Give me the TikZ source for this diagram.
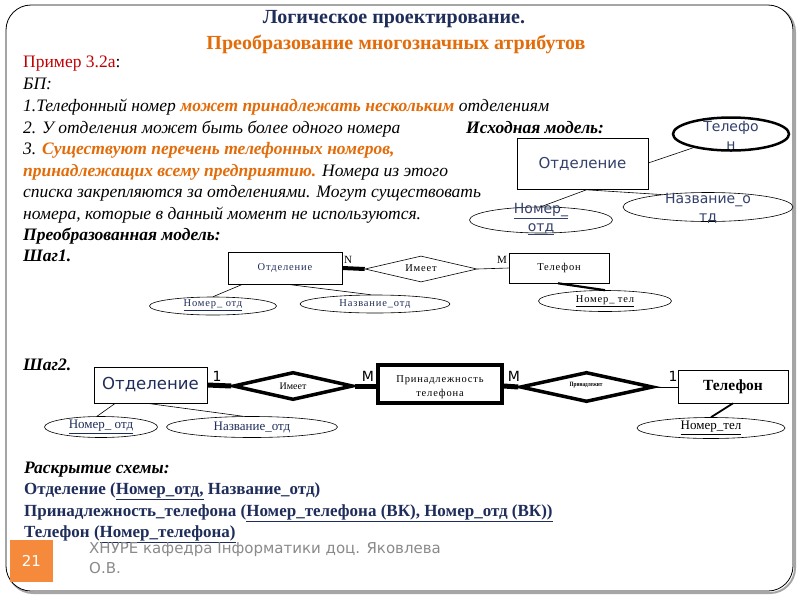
\documentclass[tikz,border=0pt]{standalone}
\usepackage{fontspec}
\setmainfont{Liberation Serif}
\newfontfamily\ttlfont[FakeStretch=0.8]{Liberation Serif}
\newfontfamily\sansf{DejaVu Sans}
\newfontfamily\lspf[LetterSpace=8]{Liberation Serif}
\usetikzlibrary{shapes.geometric,calc}
\definecolor{navy}{HTML}{1F2D5A}
\definecolor{orng}{HTML}{E36C0A}
\definecolor{redd}{HTML}{C00000}
\definecolor{boxc}{HTML}{F58A3C}
\definecolor{gry}{HTML}{8A8A8A}
\definecolor{lbl}{HTML}{33406A}
\begin{document}
\begin{tikzpicture}[x=1pt,y=-1pt,
  txt/.style={anchor=base west,inner sep=0pt,font=\fontsize{17.5}{20}\selectfont\itshape},
  ent/.style={draw,line width=0.6pt,inner sep=0pt},
  ell/.style={draw,ellipse,line width=0.6pt,inner sep=0pt},
  rel/.style={draw,diamond,line width=0.6pt,inner sep=0pt},
  thin/.style={line width=0.6pt},
  cen/.style={inner sep=0pt,align=center}]
\useasboundingbox (0,0) rectangle (800,600);
% frame
\draw[rounded corners=25pt,line width=2pt,gray!70] (8,7) rectangle (795,593);
\draw[rounded corners=25pt,line width=0.8pt,fill=white] (6,5) rectangle (793,591);
% titles
\node[inner sep=0pt,text=navy,font=\fontsize{20}{22}\selectfont\bfseries] (title1) at (394,19) {Логическое проектирование.};
\node[inner sep=0pt,text=orng,font=\fontsize{20}{22}\selectfont\bfseries] (title2) at (396,44) {Преобразование многозначных атрибутов};
% body text
\node[txt,font=\fontsize{17.5}{20}\selectfont] (l1) at (23,67) {{\color{redd}Пример 3.2а}:};
\node[txt] (l2) at (23,89) {БП:};
\node[txt] (l3) at (23,111) {1.Телефонный номер {\color{orng}\bfseries может принадлежать нескольким} отделениям};
\node[txt] (l4) at (23,133) {2. У отделения может быть более одного номера};
\node[txt,font=\fontsize{17.5}{20}\selectfont\itshape\bfseries] (l4b) at (466,133) {Исходная модель:};
\node[txt] (l5) at (23,154) {3. {\color{orng}\bfseries Существуют перечень телефонных номеров,}};
\node[txt] (l6) at (23,176) {{\color{orng}\bfseries принадлежащих всему предприятию.} Номера из этого};
\node[txt] (l7) at (23,197) {списка закрепляются за отделениями. Могут существовать};
\node[txt] (l8) at (23,219) {номера, которые в данный момент не используются.};
\node[txt,font=\fontsize{17.5}{20}\selectfont\itshape\bfseries] (l9) at (23,240) {Преобразованная модель:};
\node[txt,font=\fontsize{17.5}{20}\selectfont\itshape\bfseries] (l10) at (23,261) {Шаг1.};
% original model
\node[ent,minimum width=131pt,minimum height=51pt,text=lbl,font=\fontsize{15}{18}\sansf] (o1) at (582.5,164) {Отделение};
\node[ell,line width=2.5pt,minimum width=116pt,minimum height=33pt] (o2) at (731,134) {};
\node[cen,text=lbl,font=\fontsize{14}{18}\sansf] (o2t) at (731,135) {Телефо\\н};
\node[ell,minimum width=143pt,minimum height=26pt] (o3) at (541,220) {};
\node[cen,text=lbl,font=\fontsize{14}{18}\sansf] (o3t) at (541,219) {\underline{Номер\_}\\\underline{отд}};
\node[ell,minimum width=170pt,minimum height=29pt] (o4) at (708,207) {};
\node[cen,text=lbl,font=\fontsize{14}{18}\sansf] (o4t) at (708,208) {Название\_о\\тд};
\draw[thin] (o1.east |- 0,163) -- (o2.200);
\draw[thin] ($(o1.south west)!0.53!(o1.south east)$) -- (o3.north);
\draw[thin] ($(o1.south west)!0.53!(o1.south east)$) -- (o4.165);
% step 1
\node[ent,minimum width=114pt,minimum height=32pt,text=navy,font=\fontsize{10.5}{12}\lspf] (a1) at (285,268) {Отделение};
\node[rel,minimum width=112pt,minimum height=26pt] (a2) at (421,269) {};
\node[cen,font=\fontsize{10.5}{12}\lspf] (a2t) at (421,268) {Имеет};
\node[ent,minimum width=100pt,minimum height=30pt,font=\fontsize{10.5}{12}\lspf] (a3) at (559,268) {Телефон};
\draw[line width=4pt] (a1.east) -- (a2.west);
\draw[thin] (a2.east) -- (a3.west);
\node[inner sep=0pt,font=\fontsize{11}{12}\selectfont] (aN) at (348,260) {N};
\node[inner sep=0pt,font=\fontsize{11}{12}\selectfont] (aM) at (502,260) {M};
\node[ell,minimum width=127pt,minimum height=18pt] (a4) at (213,306) {};
\node[cen,text=navy,font=\fontsize{10.5}{12}\lspf] (a4t) at (213,305) {\underline{Номер\_ отд}};
\node[ell,minimum width=150pt,minimum height=18pt] (a5) at (375,304) {};
\node[cen,text=navy,font=\fontsize{10.5}{12}\lspf] (a5t) at (375,304) {Название\_отд};
\node[ell,minimum width=133pt,minimum height=21pt] (a6) at (605,301) {};
\node[cen,font=\fontsize{10.5}{12}\lspf] (a6t) at (605,301) {\underline{Номер\_ тел}};
\draw[thin] ($(a1.south west)!0.13!(a1.south east)$) -- (a4.north);
\draw[thin] ($(a1.south west)!0.52!(a1.south east)$) -- (a5.115);
\draw[line width=2.2pt] ($(a3.south west)!0.49!(a3.south east)$) -- (a6.north);
% step 2
\node[txt,font=\fontsize{17.5}{20}\selectfont\itshape\bfseries] (s2) at (23,370) {Шаг2.};
\node[ent,minimum width=113pt,minimum height=36pt,text=navy,font=\fontsize{16.5}{19}\sansf] (b1) at (150.5,385) {Отделение};
\node[rel,line width=3.5pt,minimum width=120pt,minimum height=28pt] (b2) at (293,386) {};
\node[cen,font=\fontsize{10}{12}\selectfont] (b2t) at (293,386) {Имеет};
\node[draw,line width=3.5pt,inner sep=0pt,minimum width=124pt,minimum height=38pt] (b3) at (440,384) {};
\node[cen,font=\fontsize{10.5}{14}\lspf] (b3t) at (440,387) {Принадлежность\\телефона};
\node[rel,line width=3.5pt,minimum width=133pt,minimum height=30pt] (b4) at (586.5,387) {};
\node[cen,font=\fontsize{6.5}{8}\ttlfont\bfseries] (b4t) at (586,385) {Принадлежит};
\node[ent,minimum width=110pt,minimum height=33pt,font=\fontsize{15.5}{18}\selectfont\bfseries] (b5) at (733,386.5) {Телефон};
\draw[line width=5pt] (b1.east |- 0,385) -- (b2.west);
\draw[line width=5pt] (b2.east) -- (b3.west |- 0,386);
\draw[line width=5pt] (b3.east |- 0,386) -- (b4.west);
\draw[thin] (b4.east) -- (b5.west |- 0,387);
\node[inner sep=0pt,font=\fontsize{14}{16}\sansf] (b1n) at (217,376) {1};
\node[inner sep=0pt,font=\fontsize{14}{16}\sansf] (bm1) at (368,376) {M};
\node[inner sep=0pt,font=\fontsize{14}{16}\sansf] (bm2) at (514,376) {M};
\node[inner sep=0pt,font=\fontsize{14}{16}\sansf] (b5n) at (673,376) {1};
\node[ell,minimum width=113pt,minimum height=21pt] (b6) at (101,427) {};
\node[cen,text=navy,font=\fontsize{13}{15}\selectfont] (b6t) at (101,427) {\underline{Номер\_ отд}};
\node[ell,minimum width=171pt,minimum height=21pt] (b7) at (252,427) {};
\node[cen,text=navy,font=\fontsize{13}{15}\selectfont] (b7t) at (252,427) {Название\_отд};
\node[ell,minimum width=148pt,minimum height=21pt] (b8) at (711,428) {};
\node[cen,font=\fontsize{13}{15}\selectfont] (b8t) at (711,428) {\underline{Номер\_тел}};
\draw[thin] ($(b1.south west)!0.19!(b1.south east)$) -- (b6.110);
\draw[thin] ($(b1.south west)!0.47!(b1.south east)$) -- (b7.130);
\draw[line width=1.8pt] ($(b5.south west)!0.5!(b5.south east)$) -- (b8.north);
% schema
\node[txt,font=\fontsize{17.5}{20}\selectfont\itshape\bfseries] (r0) at (24,473) {Раскрытие схемы:};
\node[txt,text=navy,font=\fontsize{17}{19}\selectfont\bfseries] (r1) at (24,494) {Отделение (\underline{Номер\_отд,} Название\_отд)};
\node[txt,text=navy,font=\fontsize{17}{19}\selectfont\bfseries] (r2) at (24,516) {Принадлежность\_телефона (\underline{Номер\_телефона (ВК), Номер\_отд (ВК))}};
\node[txt,text=navy,font=\fontsize{17}{19}\selectfont\bfseries] (r3) at (24,537) {Телефон (\underline{Номер\_телефона)}};
% footer
\node[fill=boxc,minimum width=43pt,minimum height=42pt,inner sep=0pt,text=white,font=\fontsize{15}{18}\sansf] (pg) at (31.5,561) {21};
\node[anchor=north west,inner sep=0pt,align=left,text=gry,font=\fontsize{15}{20}\sansf] (ft) at (89,542) {ХНУРЕ кафедра Інформатики доц. Яковлева\\О.В.};
\end{tikzpicture}
\end{document}
